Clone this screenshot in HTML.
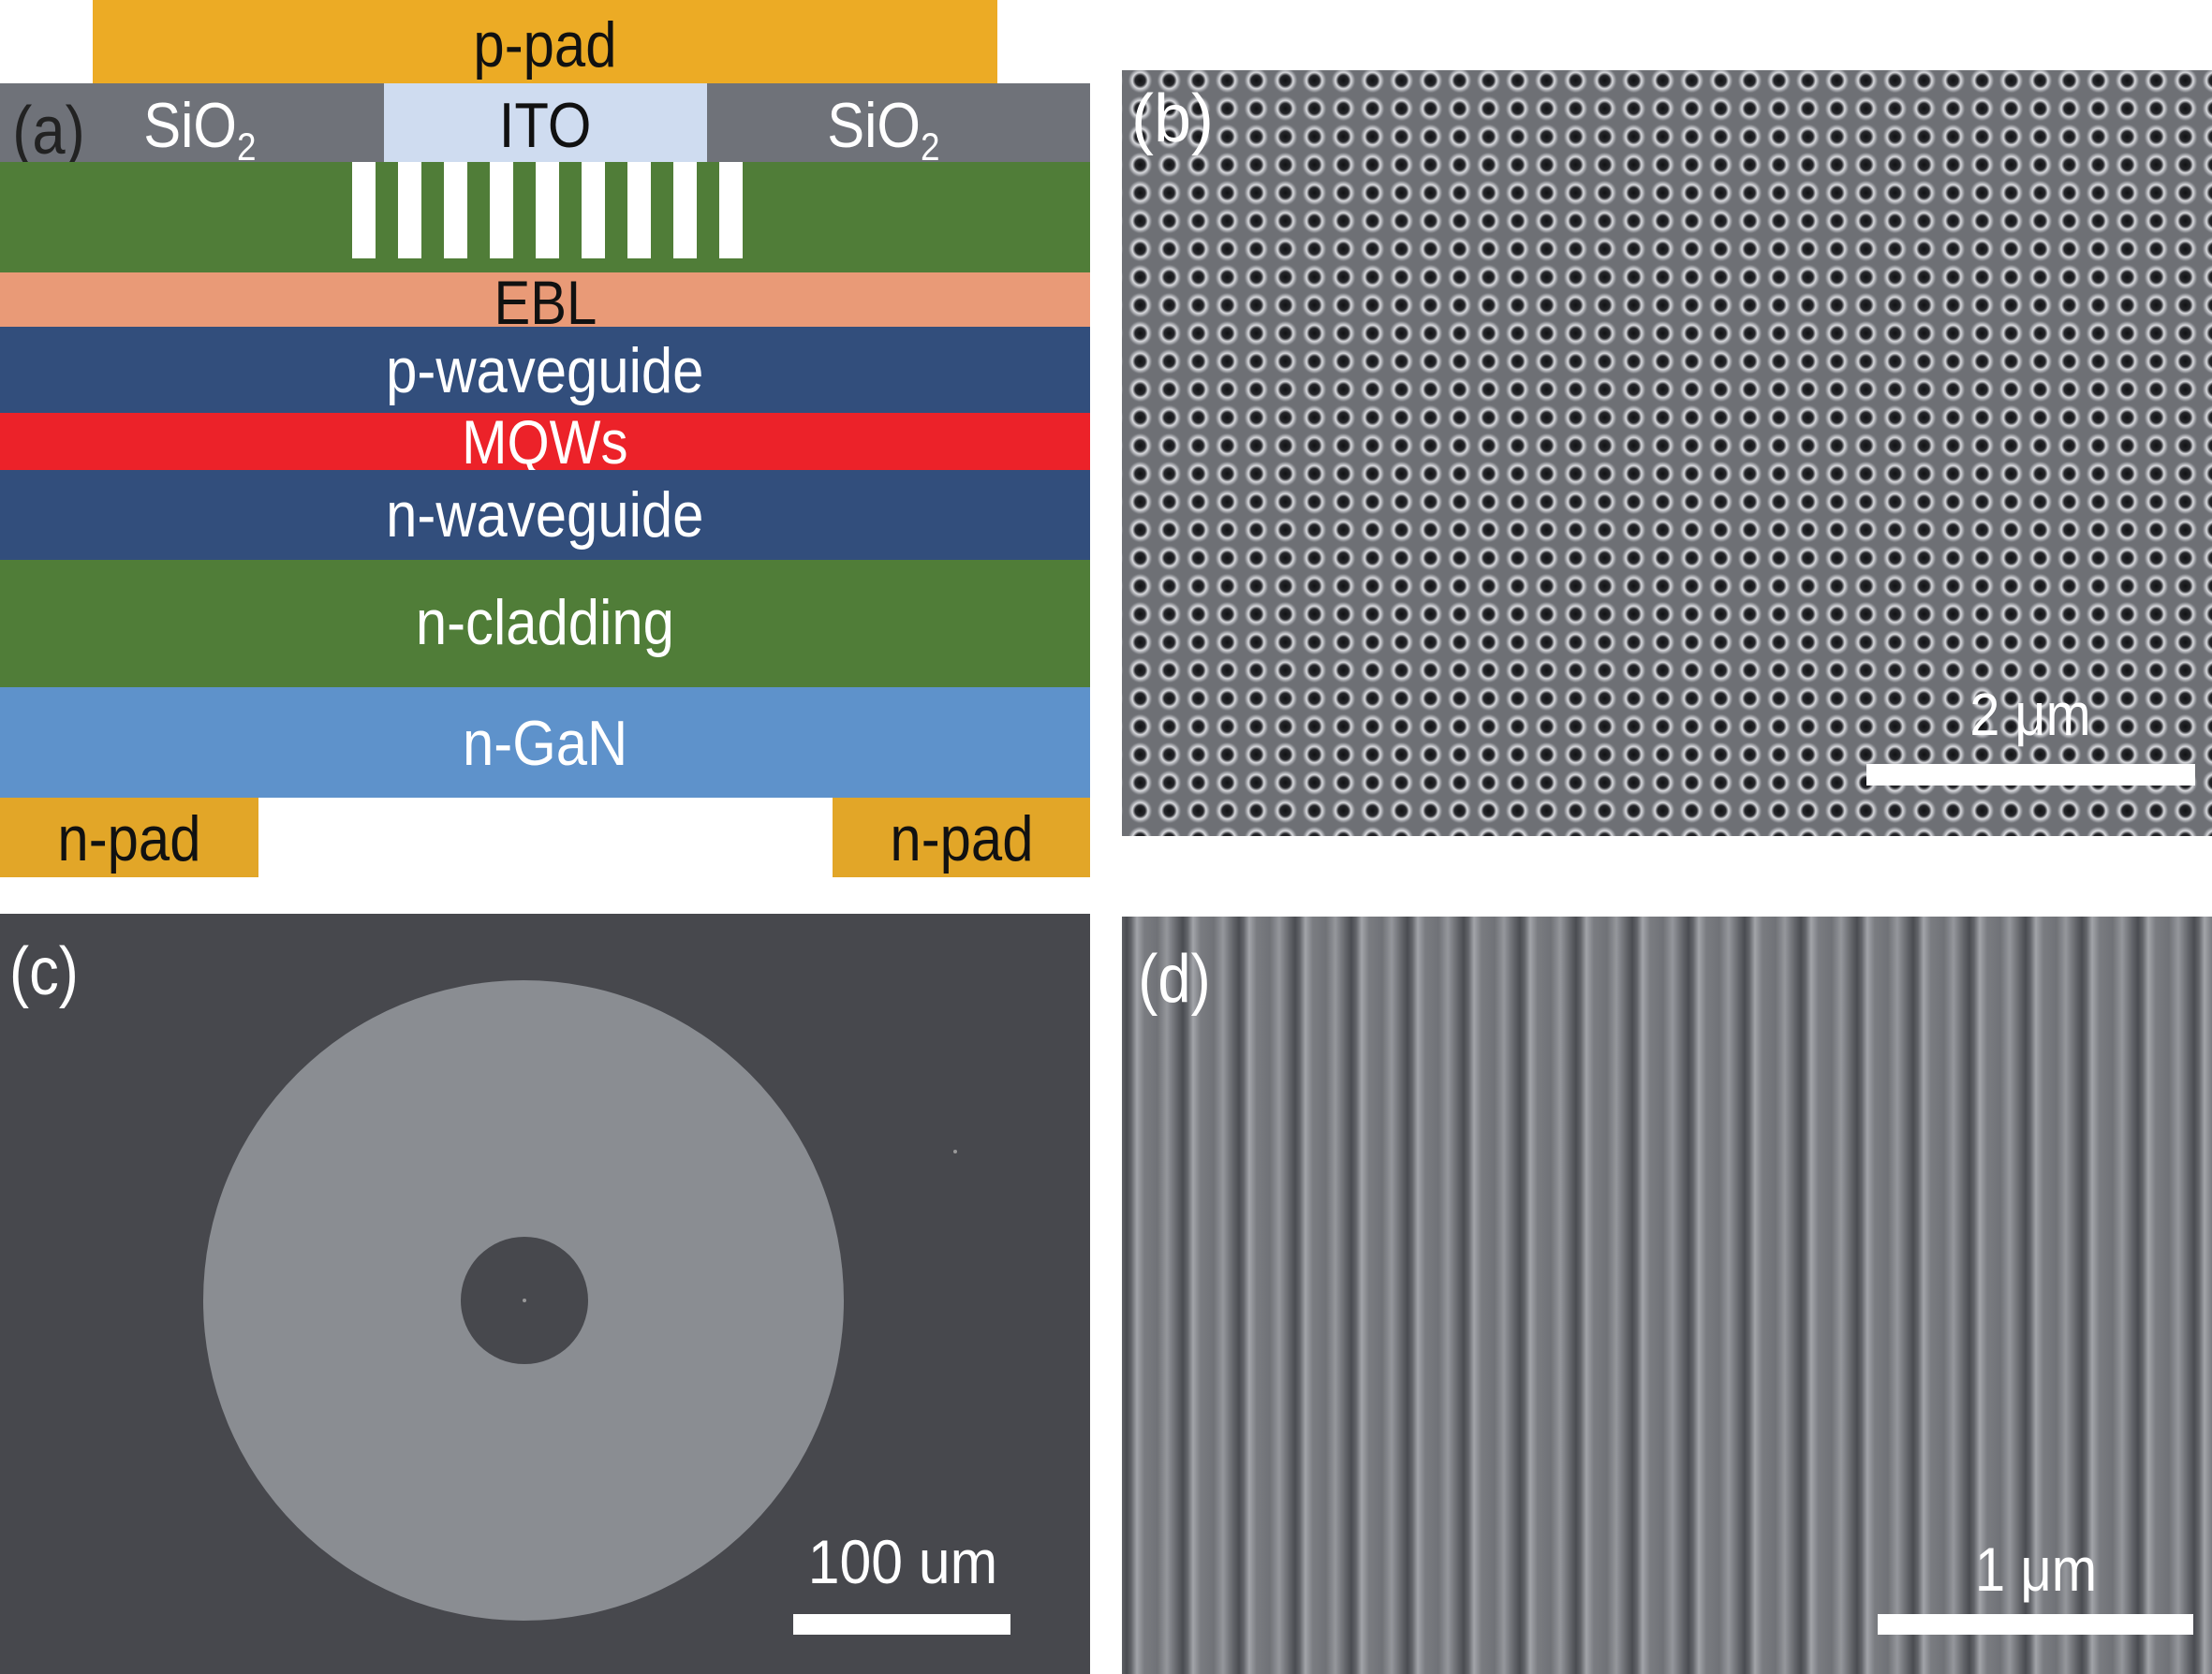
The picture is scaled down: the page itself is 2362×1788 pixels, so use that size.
<!DOCTYPE html>
<html><head><meta charset="utf-8"><style>
body{margin:0;width:2362px;height:1788px;background:#fff;position:relative;overflow:hidden;font-family:"Liberation Sans",Arial,sans-serif}
.r{position:absolute}
.t{position:absolute;white-space:nowrap;text-align:center;line-height:1}
.n{display:inline-block;transform:scaleX(0.88)}
</style></head><body>
<!-- panel a -->
<div class="r" style="left:99px;top:0;width:966px;height:89px;background:#ecab25"></div>
<div class="t" style="left:99px;width:966px;top:14px;font-size:68px;color:#111"><span class="n">p-pad</span></div>
<div class="r" style="left:0;top:89px;width:1164px;height:84px;background:#6f7279"></div>
<div class="r" style="left:410px;top:89px;width:345px;height:84px;background:#cfdcf0"></div>
<div class="t" style="left:410px;width:345px;top:100px;font-size:68px;color:#111"><span class="n">ITO</span></div>
<div class="t" style="left:145px;top:100px;font-size:68px;color:#fff"><span class="n">SiO<sub style="font-size:42px;vertical-align:-14px">2</sub></span></div>
<div class="t" style="left:875px;top:100px;font-size:68px;color:#fff"><span class="n">SiO<sub style="font-size:42px;vertical-align:-14px">2</sub></span></div>
<div class="t" style="left:8px;top:104px;font-size:72px;color:#222"><span class="n">(a)</span></div>
<div class="r" style="left:0;top:173px;width:1164px;height:118px;background:#507d38"></div>
<div class="r" style="left:376px;top:173px;width:417px;height:103px;background:repeating-linear-gradient(90deg,#fff 0 25px,transparent 25px 49px)"></div>
<div class="r" style="left:0;top:291px;width:1164px;height:58px;background:#e99a77"></div>
<div class="t" style="left:0;width:1164px;top:290px;font-size:66px;color:#111"><span class="n">EBL</span></div>
<div class="r" style="left:0;top:349px;width:1164px;height:92px;background:#324e7c"></div>
<div class="t" style="left:0;width:1164px;top:362px;font-size:68px;color:#fff"><span class="n">p-waveguide</span></div>
<div class="r" style="left:0;top:441px;width:1164px;height:61px;background:#ec2229"></div>
<div class="t" style="left:0;width:1164px;top:439px;font-size:66px;color:#fff"><span class="n">MQWs</span></div>
<div class="r" style="left:0;top:502px;width:1164px;height:96px;background:#324e7c"></div>
<div class="t" style="left:0;width:1164px;top:516px;font-size:68px;color:#fff"><span class="n">n-waveguide</span></div>
<div class="r" style="left:0;top:598px;width:1164px;height:136px;background:#507d38"></div>
<div class="t" style="left:0;width:1164px;top:631px;font-size:68px;color:#fff"><span class="n">n-cladding</span></div>
<div class="r" style="left:0;top:734px;width:1164px;height:118px;background:#5e92cb"></div>
<div class="t" style="left:0;width:1164px;top:760px;font-size:68px;color:#fff"><span class="n">n-GaN</span></div>
<div class="r" style="left:0;top:852px;width:276px;height:85px;background:#e2a628"></div>
<div class="t" style="left:0;width:276px;top:862px;font-size:68px;color:#111"><span class="n">n-pad</span></div>
<div class="r" style="left:889px;top:852px;width:275px;height:85px;background:#e2a628"></div>
<div class="t" style="left:889px;width:275px;top:862px;font-size:68px;color:#111"><span class="n">n-pad</span></div>
<!-- panel b -->
<svg class="r" style="left:1198px;top:75px" width="1164" height="818">
<defs>
<radialGradient id="h" cx="0.5" cy="0.5" r="0.5">
<stop offset="0" stop-color="#111214"/><stop offset="0.4" stop-color="#25262a"/><stop offset="0.62" stop-color="#d8d9dd"/><stop offset="0.85" stop-color="#8a8c91"/><stop offset="1" stop-color="#6e7075" stop-opacity="0"/>
</radialGradient>
<pattern id="p" width="31" height="30" patternUnits="userSpaceOnUse" x="4" y="-4">
<rect width="31" height="30" fill="#6e7075"/>
<ellipse cx="15.5" cy="15" rx="13.5" ry="14" fill="url(#h)"/>
</pattern>
</defs>
<rect width="1164" height="818" fill="url(#p)"/>
<rect x="795" y="741" width="351" height="23" fill="#fff"/>
<text x="970" y="710" font-size="64" fill="#fff" text-anchor="middle" font-family="Liberation Sans" transform="translate(970 0) scale(0.9 1) translate(-970 0)">2 μm</text>
<text x="10" y="76" font-size="72" fill="#fff" font-family="Liberation Sans">(b)</text>
</svg>
<!-- panel c -->
<svg class="r" style="left:0;top:976px" width="1164" height="812">
<rect width="1164" height="812" fill="#47484d"/>
<circle cx="559" cy="413" r="342" fill="#8a8d92"/>
<circle cx="560" cy="413" r="68" fill="#47484d"/>
<circle cx="560" cy="413" r="2" fill="#999"/>
<circle cx="1020" cy="254" r="2" fill="#999"/>
<rect x="847" y="748" width="232" height="22" fill="#fff"/>
<text x="964" y="715" font-size="66" fill="#fff" text-anchor="middle" font-family="Liberation Sans" transform="translate(964 0) scale(0.92 1) translate(-964 0)">100 um</text>
<text x="10" y="86" font-size="72" fill="#fff" font-family="Liberation Sans" transform="translate(10 0) scale(0.88 1) translate(-10 0)">(c)</text>
</svg>
<!-- panel d -->
<div class="r" style="left:1198px;top:979px;width:1164px;height:809px;background:repeating-linear-gradient(90deg,#5e6065 0,#4a4c51 5px,#63656a 10px,#a2a4a9 16px,#7a7c81 24px,#707277 38px,#95979c 48px,#74767b 55px,#5e6065 60px)"></div>
<div class="r" style="left:2005px;top:1724px;width:337px;height:22px;background:#fff"></div>
<div class="t" style="left:2074px;width:200px;top:1643px;font-size:66px;color:#fff"><span class="n">1 μm</span></div>
<div class="t" style="left:1210px;top:1010px;font-size:72px;color:#fff"><span class="n">(d)</span></div>
</body></html>
